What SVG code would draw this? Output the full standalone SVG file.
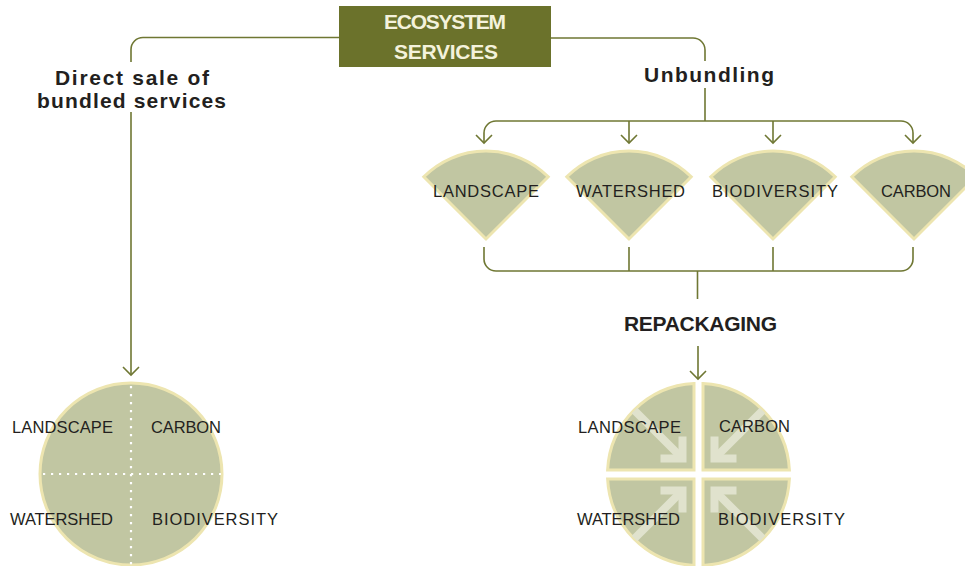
<svg xmlns="http://www.w3.org/2000/svg" width="965" height="566" viewBox="0 0 965 566">
  <style>
    .line { fill: none; stroke: #6f7733; stroke-width: 1.6; }
    .head { fill: none; stroke: #6f7733; stroke-width: 1.6; stroke-linejoin: miter; }
    .shape { fill: #c1c6a2; stroke: #ede5b0; stroke-width: 3; stroke-linejoin: miter; }
    .lbl { font-family: "Liberation Sans Narrow", "Liberation Sans", Arial, sans-serif; font-size: 16.5px; fill: #231f20; }
    .bold { font-family: "Liberation Sans Narrow", "Liberation Sans", Arial, sans-serif; font-size: 21px; font-weight: bold; fill: #231f20; }
    .title { font-family: "Liberation Sans Narrow", "Liberation Sans", Arial, sans-serif; font-size: 21px; font-weight: bold; fill: #f4f2dc; }
    .dots { fill: none; stroke: #ffffff; stroke-width: 2.2; stroke-dasharray: 2.2 5.8; }
    .flow { fill: none; stroke: #e0e2cd; stroke-width: 8; stroke-linecap: butt; stroke-linejoin: miter; }
  </style>
  <defs>
    <path id="wedge" d="M0,0 L-62.2,-62.2 A88,88 0 0 1 62.2,-62.2 Z"/>
    <g id="inward">
      <polyline points="-16,-38 -16,-16 -38,-16"/>
      <line x1="-64" y1="-64" x2="-19" y2="-19"/>
    </g>
  </defs>
  <rect width="965" height="566" fill="#ffffff"/>

  <!-- connectors -->
  <g id="connectors">
    <path class="line" d="M339,37.5 H143 A12,12 0 0 0 131,49.5 V62"/>
    <path class="line" d="M131,112 V375"/>
    <polyline class="head" points="123,367 131,375 139,367"/>

    <path class="line" d="M551,38 H693 A12,12 0 0 1 705,50 V61"/>
    <path class="line" d="M705,88 V121"/>
    <path class="line" d="M496,121 H901"/>
    <path class="line" d="M496,121 A12,12 0 0 0 484,133 V143"/>
    <path class="line" d="M901,121 A12,12 0 0 1 913,133 V143"/>
    <path class="line" d="M629,121 V143"/>
    <path class="line" d="M773,121 V143"/>
    <polyline class="head" points="476,135 484,143 492,135"/>
    <polyline class="head" points="621,135 629,143 637,135"/>
    <polyline class="head" points="765,135 773,143 781,135"/>
    <polyline class="head" points="905,135 913,143 921,135"/>

    <path class="line" d="M484,247 V259 A12,12 0 0 0 496,271 H901 A12,12 0 0 0 913,259 V247"/>
    <path class="line" d="M629,247 V271"/>
    <path class="line" d="M773,247 V271"/>
    <path class="line" d="M697.5,271 V299"/>
    <path class="line" d="M698,346 V379"/>
    <polyline class="head" points="690,371 698,379 706,371"/>
  </g>

  <!-- title box -->
  <g id="ecosystem-services">
    <rect x="339" y="6" width="212" height="61" fill="#6b722b"/>
    <text class="title" x="384" y="29" textLength="122" lengthAdjust="spacing">ECOSYSTEM</text>
    <text class="title" x="394" y="59" textLength="104" lengthAdjust="spacing">SERVICES</text>
  </g>

  <!-- branch labels -->
  <g id="label-direct-sale">
    <text class="bold" x="55" y="85" textLength="154" lengthAdjust="spacing">Direct sale of</text>
    <text class="bold" x="37" y="108" textLength="189" lengthAdjust="spacing">bundled services</text>
  </g>
  <g id="label-unbundling">
    <text class="bold" x="644" y="82" textLength="130" lengthAdjust="spacing">Unbundling</text>
  </g>
  <g id="label-repackaging">
    <text class="bold" x="624" y="331" textLength="153" lengthAdjust="spacing">REPACKAGING</text>
  </g>

  <!-- unbundled services -->
  <g id="wedge-landscape">
    <use href="#wedge" class="shape" x="486" y="239"/>
    <text class="lbl" x="433" y="197" textLength="106" lengthAdjust="spacing">LANDSCAPE</text>
  </g>
  <g id="wedge-watershed">
    <use href="#wedge" class="shape" x="629" y="239"/>
    <text class="lbl" x="576" y="197" textLength="109" lengthAdjust="spacing">WATERSHED</text>
  </g>
  <g id="wedge-biodiversity">
    <use href="#wedge" class="shape" x="773" y="239"/>
    <text class="lbl" x="712" y="197" textLength="126" lengthAdjust="spacing">BIODIVERSITY</text>
  </g>
  <g id="wedge-carbon">
    <use href="#wedge" class="shape" x="914" y="239"/>
    <text class="lbl" x="881" y="197" textLength="70" lengthAdjust="spacing">CARBON</text>
  </g>

  <!-- bundled package -->
  <g id="bundle">
    <circle class="shape" cx="131" cy="474" r="91"/>
    <line class="dots" x1="131" y1="386" x2="131" y2="566"/>
    <line class="dots" x1="43" y1="474" x2="221" y2="474"/>
    <text class="lbl" x="12" y="433" textLength="101" lengthAdjust="spacing">LANDSCAPE</text>
    <text class="lbl" x="151" y="433" textLength="70" lengthAdjust="spacing">CARBON</text>
    <text class="lbl" x="10" y="525" textLength="103" lengthAdjust="spacing">WATERSHED</text>
    <text class="lbl" x="152" y="525" textLength="126" lengthAdjust="spacing">BIODIVERSITY</text>
  </g>

  <!-- repackaged services -->
  <g id="package">
    <path class="shape" d="M694,470 L694,383.61 A91,91 0 0 0 607.61,470 Z"/>
    <path class="shape" d="M703,470 L789.39,470 A91,91 0 0 0 703,383.61 Z"/>
    <path class="shape" d="M694,479 L607.61,479 A91,91 0 0 0 694,565.39 Z"/>
    <path class="shape" d="M703,479 L703,565.39 A91,91 0 0 0 789.39,479 Z"/>
    <g class="flow">
      <use href="#inward" transform="translate(698.5,474.5)"/>
      <use href="#inward" transform="translate(698.5,474.5) rotate(90)"/>
      <use href="#inward" transform="translate(698.5,474.5) rotate(180)"/>
      <use href="#inward" transform="translate(698.5,474.5) rotate(270)"/>
    </g>
    <text class="lbl" x="578" y="433" textLength="103" lengthAdjust="spacing">LANDSCAPE</text>
    <text class="lbl" x="719" y="432" textLength="71" lengthAdjust="spacing">CARBON</text>
    <text class="lbl" x="577" y="525" textLength="103" lengthAdjust="spacing">WATERSHED</text>
    <text class="lbl" x="718" y="525" textLength="127" lengthAdjust="spacing">BIODIVERSITY</text>
  </g>
</svg>
